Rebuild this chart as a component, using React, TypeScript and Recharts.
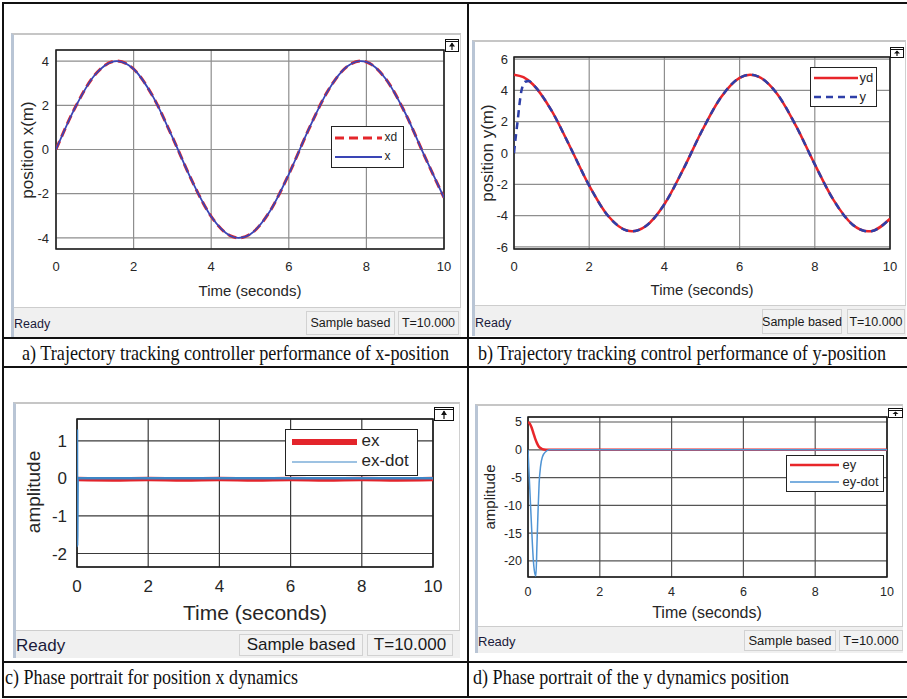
import React from 'react';
import { LineChart, Line, XAxis, YAxis, CartesianGrid, Legend, ReferenceArea } from 'recharts';

const SANS = '"Liberation Sans", Arial, sans-serif';
const SERIF = '"Liberation Serif", "Times New Roman", serif';

const timeTicks = [0, 2, 4, 6, 8, 10];

// a) x-position tracking
const timeA = [0, 0.5, 1, 1.5, 1.57, 2, 2.5, 3, 3.5, 4, 4.5, 4.71, 5, 5.5, 6, 6.5, 7, 7.5, 7.85, 8, 8.5, 9, 9.5, 10];
const xdValues = [0, 1.92, 3.37, 3.99, 4.0, 3.64, 2.39, 0.56, -1.4, -3.03, -3.91, -4.0, -3.84, -2.83, -1.12, 0.86, 2.63, 3.75, 4.0, 3.96, 3.19, 1.65, -0.3, -2.18];
const xValues = [0, 1.92, 3.37, 3.99, 4.0, 3.64, 2.39, 0.56, -1.4, -3.03, -3.91, -4.0, -3.84, -2.83, -1.12, 0.86, 2.63, 3.75, 4.0, 3.96, 3.19, 1.65, -0.3, -2.18];
const ticksA = [-4, -2, 0, 2, 4];

// b) y-position tracking
const timeB = [0, 0.25, 0.5, 1, 1.5, 2, 2.5, 3, 3.14, 3.5, 4, 4.5, 5, 5.5, 6, 6.28, 6.5, 7, 7.5, 8, 8.5, 9, 9.42, 9.5, 10];
const ydValues = [5, 4.84, 4.39, 2.7, 0.35, -2.08, -4.01, -4.95, -5.0, -4.68, -3.27, -1.05, 1.42, 3.54, 4.8, 5.0, 4.88, 3.77, 1.73, -0.73, -3.01, -4.56, -5.0, -4.99, -4.2];
const yTime = [0, 0.05, 0.1, 0.15, 0.2, 0.3, 0.4, 0.5, 1, 1.5, 2, 2.5, 3, 3.14, 3.5, 4, 4.5, 5, 5.5, 6, 6.28, 6.5, 7, 7.5, 8, 8.5, 9, 9.42, 9.5, 10];
const yValues = [0, 1.1, 2.1, 3.2, 4.0, 4.55, 4.6, 4.39, 2.7, 0.35, -2.08, -4.01, -4.95, -5.0, -4.68, -3.27, -1.05, 1.42, 3.54, 4.8, 5.0, 4.88, 3.77, 1.73, -0.73, -3.01, -4.56, -5.0, -4.99, -4.2];
const ticksB = [-6, -4, -2, 0, 2, 4, 6];

// c) x error dynamics
const exTime = [0, 1, 2, 3, 4, 5, 6, 7, 8, 9, 10];
const exValues = [-0.02, -0.03, -0.02, -0.03, -0.02, -0.03, -0.02, -0.03, -0.02, -0.03, -0.02];
const exDotTime = [0, 0.004, 0.02, 10];
const exDotValues = [1.3, -1.8, 0, 0];
const ticksC = [-2, -1, 0, 1];

// d) y error dynamics
const eyTime = [0, 0.05, 0.1, 0.15, 0.2, 0.25, 0.3, 0.35, 0.4, 0.5, 0.6, 10];
const eyValues = [5, 4.7, 4.0, 3.0, 2.0, 1.2, 0.6, 0.3, 0.12, 0.02, 0, 0];
const eyDotTime = [0, 0.05, 0.1, 0.15, 0.2, 0.22, 0.25, 0.28, 0.31, 0.35, 0.4, 0.5, 0.6, 10];
const eyDotValues = [0, -7, -14, -20, -22.5, -22.7, -17, -11, -6, -3, -1.3, -0.3, 0, 0];
const ticksD = [-20, -15, -10, -5, 0, 5];

const toPoints = (time: number[], values: number[]) => time.map((t, i) => ({ t, v: values[i] }));

type Series = {
  name: string;
  points: { t: number; v: number }[];
  color: string;
  width: number;
  dash?: string;
  legendWidth?: number;
};

type Panel = {
  frame: { left: number; top: number; right: number; bottom: number; status: number };
  box: { left: number; top: number; right: number; bottom: number };
  yDomain: [number, number];
  yTicks: number[];
  tickFont: number;
  yTickMargin: number;
  xTickMargin: number;
  grid: string;
  yLabel: { text: string; x: number; y: number; size: number };
  xLabel: { x: number; y: number; size: number };
  legend: { left: number; top: number; width: number; height: number; rows: number[]; lineX: number; lineLen: number; textX: number; font: number };
  series: Series[];
  status: { font: number; sample: [number, number]; stamp: [number, number] };
  icon: { left: number; top: number; width: number; height: number };
};

const panels: Panel[] = [
  {
    frame: { left: 11, top: 33, right: 461, bottom: 337, status: 307 },
    box: { left: 56, top: 50, right: 444, bottom: 249 },
    yDomain: [-4.5, 4.5],
    yTicks: ticksA,
    tickFont: 13,
    yTickMargin: 1,
    xTickMargin: 7,
    grid: '#8e8e8e',
    yLabel: { text: 'position x(m)', x: 27, y: 150, size: 17 },
    xLabel: { x: 250, y: 290, size: 15 },
    legend: { left: 331, top: 126, width: 73, height: 42, rows: [12, 31], lineX: 4, lineLen: 47, textX: 54, font: 12 },
    series: [
      { name: 'xd', points: toPoints(timeA, xdValues), color: '#e4262b', width: 3, dash: '9 5' },
      { name: 'x', points: toPoints(timeA, xValues), color: '#3a45b5', width: 1.8 },
    ],
    status: { font: 12.5, sample: [306, 395], stamp: [398, 459] },
    icon: { left: 445, top: 39, width: 14, height: 13 },
  },
  {
    frame: { left: 472, top: 40, right: 906, bottom: 336, status: 305 },
    box: { left: 514, top: 57, right: 890, bottom: 249 },
    yDomain: [-6.13, 6.13],
    yTicks: ticksB,
    tickFont: 13,
    yTickMargin: 0,
    xTickMargin: 7,
    grid: '#8e8e8e',
    yLabel: { text: 'position y(m)', x: 487, y: 153, size: 17 },
    xLabel: { x: 702, y: 289, size: 15 },
    legend: { left: 810, top: 67, width: 67, height: 40, rows: [11, 30], lineX: 4, lineLen: 44, textX: 50, font: 13 },
    series: [
      { name: 'yd', points: toPoints(timeB, ydValues), color: '#e8252a', width: 2.5 },
      { name: 'y', points: toPoints(yTime, yValues), color: '#2e3fa8', width: 2.5, dash: '7 5' },
    ],
    status: { font: 12.5, sample: [762, 842], stamp: [847, 905] },
    icon: { left: 890, top: 47, width: 14, height: 11 },
  },
  {
    frame: { left: 13, top: 402, right: 460, bottom: 658, status: 630 },
    box: { left: 77, top: 419, right: 433, bottom: 567 },
    yDomain: [-2.36, 1.58],
    yTicks: ticksC,
    tickFont: 17,
    yTickMargin: 4,
    xTickMargin: 7,
    grid: '#3a3a3a',
    yLabel: { text: 'amplitude', x: 33, y: 492, size: 19 },
    xLabel: { x: 255, y: 612, size: 21 },
    legend: { left: 285, top: 429, width: 133, height: 47, rows: [13, 33], lineX: 7, lineLen: 65, textX: 77, font: 17 },
    series: [
      { name: 'ex', points: toPoints(exTime, exValues), color: '#e3242b', width: 4.5, legendWidth: 6 },
      { name: 'ex-dot', points: toPoints(exDotTime, exDotValues), color: '#3d85c6', width: 2.5, legendWidth: 1.2 },
    ],
    status: { font: 17, sample: [239, 363], stamp: [367, 453] },
    icon: { left: 434, top: 407, width: 20, height: 14 },
  },
  {
    frame: { left: 475, top: 404, right: 903, bottom: 653, status: 626 },
    box: { left: 528, top: 417, right: 887, bottom: 577 },
    yDomain: [-22.9, 5.9],
    yTicks: ticksD,
    tickFont: 12.5,
    yTickMargin: 0,
    xTickMargin: 4,
    grid: '#555555',
    yLabel: { text: 'amplitude', x: 489, y: 497, size: 15 },
    xLabel: { x: 707, y: 612, size: 16 },
    legend: { left: 786, top: 455, width: 98, height: 37, rows: [10, 27], lineX: 4, lineLen: 49, textX: 57, font: 13 },
    series: [
      { name: 'ey', points: toPoints(eyTime, eyValues), color: '#e8262a', width: 2.5 },
      { name: 'ey-dot', points: toPoints(eyDotTime, eyDotValues), color: '#4f94d4', width: 1.5 },
    ],
    status: { font: 13, sample: [744, 836], stamp: [839, 903] },
    icon: { left: 888, top: 408, width: 15, height: 10 },
  },
];

function LegendBox({ p }: { p: Panel }) {
  const lg = p.legend;
  return (
    <div
      style={{
        position: 'relative',
        width: lg.width,
        height: lg.height,
        border: '1.5px solid #222',
        background: '#fff',
        boxSizing: 'border-box',
        fontFamily: SANS,
      }}
    >
      {p.series.map((s, i) => (
        <div key={s.name}>
          <svg
            width={lg.lineLen}
            height={10}
            style={{ position: 'absolute', left: lg.lineX - 1.5, top: lg.rows[i] - 6.5 }}
          >
            <line
              x1={0}
              x2={lg.lineLen}
              y1={5}
              y2={5}
              stroke={s.color}
              strokeWidth={s.legendWidth ?? s.width}
              strokeDasharray={s.dash}
            />
          </svg>
          <span
            style={{
              position: 'absolute',
              left: lg.textX - 1.5,
              top: lg.rows[i] - 1.5 - lg.font * 0.6,
              fontSize: lg.font,
              lineHeight: `${lg.font * 1.2}px`,
              color: '#262626',
              whiteSpace: 'nowrap',
            }}
          >
            {s.name}
          </span>
        </div>
      ))}
    </div>
  );
}

function UndockIcon({ i }: { i: Panel['icon'] }) {
  return (
    <svg
      width={i.width}
      height={i.height}
      style={{ position: 'absolute', left: i.left, top: i.top }}
    >
      <rect x={0.5} y={0.5} width={i.width - 1} height={i.height - 1} fill="#fff" stroke="#111" />
      <line x1={1} x2={i.width - 1} y1={2.5} y2={2.5} stroke="#111" />
      <path
        d={`M${i.width / 2} 3.5 L${i.width / 2 - 3} ${i.height / 2 + 1} L${i.width / 2 + 3} ${i.height / 2 + 1} Z`}
        fill="#111"
      />
      <line x1={i.width / 2} x2={i.width / 2} y1={4} y2={i.height - 2} stroke="#111" strokeWidth={1.2} />
    </svg>
  );
}

function ScopePanel({ p }: { p: Panel }) {
  const { frame, box } = p;
  const yAxisWidth = 40;
  const xAxisHeight = 40;
  const width = frame.right - frame.left;
  const height = frame.status - frame.top;
  const margin = {
    top: box.top - frame.top,
    right: frame.right - box.right,
    left: box.left - frame.left - yAxisWidth,
    bottom: frame.status - box.bottom - xAxisHeight,
  };
  const tick = { fill: '#262626', fontSize: p.tickFont, fontFamily: SANS };
  const boxStyle = {
    position: 'absolute' as const,
    top: frame.status + 4,
    height: frame.bottom - frame.status - 6,
    border: '1px solid #d2d2d2',
    boxSizing: 'border-box' as const,
    background: '#f2f2f2',
    fontFamily: SANS,
    fontSize: p.status.font,
    color: '#1a1a1a',
    display: 'flex',
    alignItems: 'center',
    justifyContent: 'center',
    whiteSpace: 'nowrap' as const,
  };

  return (
    <>
      <div
        style={{
          position: 'absolute',
          left: frame.left,
          top: frame.top,
          width,
          height: frame.bottom - frame.top,
          background: '#fff',
          borderTop: '2px solid #c6c6c6',
          borderLeft: '3px solid #b9c5d5',
          borderRight: '1px solid #d0d0d0',
          boxSizing: 'border-box',
        }}
      />
      <div style={{ position: 'absolute', left: frame.left, top: frame.top }}>
        <LineChart width={width} height={height} margin={margin}>
          <CartesianGrid stroke={p.grid} strokeWidth={1.2} />
          <ReferenceArea
            x1={0}
            x2={10}
            y1={p.yDomain[0]}
            y2={p.yDomain[1]}
            fill="none"
            fillOpacity={0}
            stroke="#1a1a1a"
            strokeWidth={1.5}
          />
          <XAxis
            dataKey="t"
            type="number"
            domain={[0, 10]}
            ticks={timeTicks}
            interval={0}
            allowDataOverflow
            height={xAxisHeight}
            axisLine={false}
            tickLine={false}
            tickMargin={p.xTickMargin}
            tick={tick}
            label={() => (
              <text
                x={p.xLabel.x - frame.left}
                y={p.xLabel.y - frame.top}
                textAnchor="middle"
                dominantBaseline="central"
                fontFamily={SANS}
                fontSize={p.xLabel.size}
                fill="#262626"
              >
                Time (seconds)
              </text>
            )}
          />
          <YAxis
            type="number"
            domain={p.yDomain}
            ticks={p.yTicks}
            interval={0}
            allowDataOverflow
            width={yAxisWidth}
            axisLine={false}
            tickLine={false}
            tickMargin={p.yTickMargin}
            tick={tick}
            label={() => (
              <text
                x={p.yLabel.x - frame.left}
                y={p.yLabel.y - frame.top}
                textAnchor="middle"
                dominantBaseline="central"
                fontFamily={SANS}
                fontSize={p.yLabel.size}
                fill="#262626"
                transform={`rotate(-90 ${p.yLabel.x - frame.left} ${p.yLabel.y - frame.top})`}
              >
                {p.yLabel.text}
              </text>
            )}
          />
          {p.series.map((s) => (
            <Line
              key={s.name}
              name={s.name}
              data={s.points}
              dataKey="v"
              type="monotone"
              stroke={s.color}
              strokeWidth={s.width}
              strokeDasharray={s.dash}
              dot={false}
              isAnimationActive={false}
            />
          ))}
          <Legend
            layout="vertical"
            align="center"
            verticalAlign="middle"
            wrapperStyle={{
              left: p.legend.left - frame.left,
              top: p.legend.top - frame.top,
              width: p.legend.width,
              height: p.legend.height,
            }}
            content={() => <LegendBox p={p} />}
          />
        </LineChart>
      </div>
      <UndockIcon i={p.icon} />
      <div
        style={{
          position: 'absolute',
          left: frame.left + 3,
          top: frame.status,
          width: width - 3,
          height: frame.bottom - frame.status,
          background: '#f0f0f0',
          borderTop: '1px solid #cdcdcd',
          boxSizing: 'border-box',
        }}
      />
      <div
        style={{
          position: 'absolute',
          left: frame.left + 3,
          top: frame.status + 2,
          height: frame.bottom - frame.status,
          display: 'flex',
          alignItems: 'center',
          fontFamily: SANS,
          fontSize: p.status.font,
          color: '#1a1a3a',
        }}
      >
        Ready
      </div>
      <div style={{ ...boxStyle, left: p.status.sample[0], width: p.status.sample[1] - p.status.sample[0] }}>
        Sample based
      </div>
      <div style={{ ...boxStyle, left: p.status.stamp[0], width: p.status.stamp[1] - p.status.stamp[0] }}>
        T=10.000
      </div>
    </>
  );
}

const captions = [
  { text: 'a) Trajectory tracking controller performance of x-position', x: 22, y: 360, w: 427 },
  { text: 'b) Trajectory tracking control performance of y-position', x: 478, y: 360, w: 408 },
  { text: 'c) Phase portrait for position x dynamics', x: 5, y: 684, w: 293 },
  { text: 'd) Phase portrait of the y dynamics position', x: 473, y: 684, w: 316 },
];

export default function App() {
  return (
    <div
      style={{
        position: 'absolute',
        left: 0,
        top: 0,
        width: 907,
        height: 699,
        background: '#fff',
        overflow: 'hidden',
      }}
    >
      <svg width={907} height={699} style={{ position: 'absolute', left: 0, top: 0 }}>
        <g stroke="#111" strokeWidth={2}>
          <line x1={2} x2={907} y1={3} y2={3} />
          <line x1={3} x2={3} y1={2} y2={698} />
          <line x1={468} x2={468} y1={2} y2={698} />
          <line x1={2} x2={907} y1={338} y2={338} />
          <line x1={2} x2={907} y1={367} y2={367} />
          <line x1={2} x2={907} y1={662} y2={662} />
          <line x1={2} x2={907} y1={697} y2={697} />
        </g>
        {captions.map((c) => (
          <g key={c.text} transform={`translate(${c.x} ${c.y}) scale(1 1.18)`}>
            <text
              x={0}
              y={0}
              fontFamily={SERIF}
              fontSize={17}
              fill="#111"
              textLength={c.w}
              lengthAdjust="spacingAndGlyphs"
            >
              {c.text}
            </text>
          </g>
        ))}
      </svg>
      {panels.map((p, i) => (
        <ScopePanel key={i} p={p} />
      ))}
    </div>
  );
}
